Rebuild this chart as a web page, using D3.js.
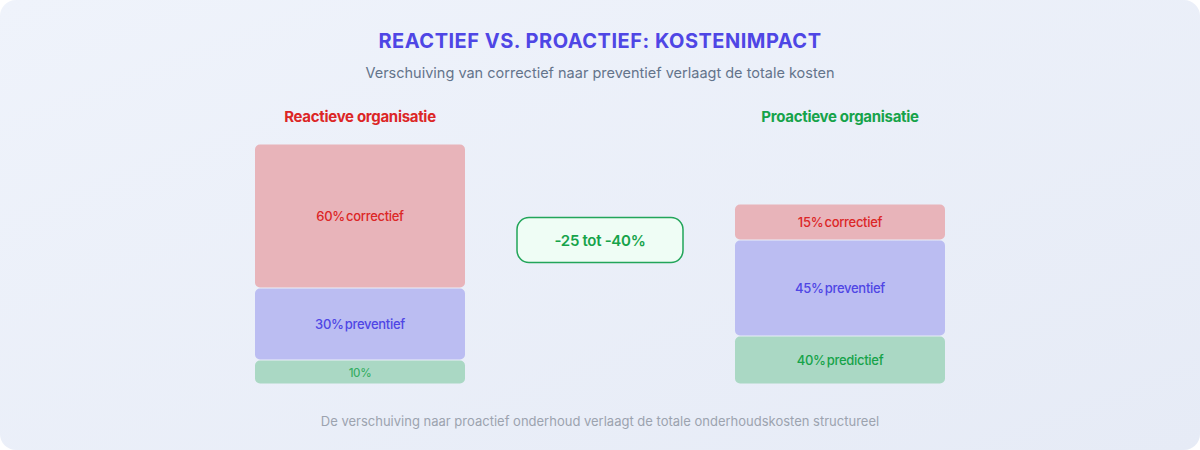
<!DOCTYPE html>
<html><head><meta charset="utf-8">
<script src="https://cdn.jsdelivr.net/npm/d3@7"></script>
<style>body{margin:0;background:#fff;font-family:Inter,"Noto Sans",sans-serif}</style>
</head><body><svg id="c" width="1200" height="450"></svg>
<script>
const categories = ["correctief","preventief","predictief"];
const reactiefValues = [60,30,10];
const reactiefLabels = ["60% correctief","30% preventief","10%"];
const proactiefValues = [15,40,20];
const proactiefLabels = ["15% correctief","45% preventief","40% predictief"];
const badgeText = "-25 tot -40%";

const svg = d3.select("#c");
const defs = svg.append("defs");
const g = defs.append("linearGradient").attr("id","bg").attr("x1","0").attr("y1","0").attr("x2","1").attr("y2","1");
g.append("stop").attr("offset","0").attr("stop-color","#eff3fb");
g.append("stop").attr("offset","1").attr("stop-color","#e6ebf6");
svg.append("rect").attr("width",1200).attr("height",450).attr("rx",16).attr("fill","url(#bg)");

svg.append("text").attr("x",600).attr("y",48).attr("text-anchor","middle").attr("font-size",20).attr("font-weight",700).attr("fill","#4f46e5").attr("letter-spacing","0.5").text("REACTIEF VS. PROACTIEF: KOSTENIMPACT");
svg.append("text").attr("x",600).attr("y",78).attr("text-anchor","middle").attr("font-size",14.5).attr("fill","#64748b").text("Verschuiving van correctief naar preventief verlaagt de totale kosten");
svg.append("text").attr("x",600).attr("y",426).attr("text-anchor","middle").attr("font-size",13).attr("fill","#9ca3af").text("De verschuiving naar proactief onderhoud verlaagt de totale onderhoudskosten structureel");

const fills = {correctief:"#e8b4ba",preventief:"#bbbdf2",predictief:"#aad8c4"};
const txt = {correctief:"#dc2626",preventief:"#4f46e5",predictief:"#16a34a"};
const y = d3.scaleLinear().domain([0,100]).range([384,144]);

function stack(x0, values, labels, title, titleColor){
  const w = 210;
  svg.append("text").attr("x",x0+w/2).attr("y",122).attr("text-anchor","middle").attr("font-size",15).attr("font-weight",700).attr("fill",titleColor).attr("letter-spacing","-0.3").text(title);
  let cum = d3.sum(values);
  const segs = values.map((v,i)=>{const s={cat:categories[i],lo:cum-v,hi:cum,label:labels[i]};cum-=v;return s;});
  const gg = svg.append("g");
  gg.selectAll("rect").data(segs).join("rect")
    .attr("x",x0).attr("width",w)
    .attr("y",d=>y(d.hi)+0.5).attr("height",d=>y(d.lo)-y(d.hi)-1)
    .attr("rx",5).attr("fill",d=>fills[d.cat]);
  gg.selectAll("text").data(segs).join("text")
    .attr("x",x0+w/2).attr("y",d=>(y(d.hi)+y(d.lo))/2+5)
    .attr("text-anchor","middle").attr("font-size",d=>d.hi-d.lo<15?11.5:13).attr("font-weight",500).attr("letter-spacing","-0.3").attr("word-spacing","-2")
    .attr("fill",d=>txt[d.cat]).attr("fill-opacity",d=>d.hi-d.lo<15?0.8:1).text(d=>d.label);
}
stack(255, reactiefValues, reactiefLabels, "Reactieve organisatie", "#dc2626");
stack(735, proactiefValues, proactiefLabels, "Proactieve organisatie", "#16a34a");

svg.append("rect").attr("x",517).attr("y",217.5).attr("width",166).attr("height",45).attr("rx",12).attr("fill","#effdf5").attr("stroke","#22a55a").attr("stroke-width",1.5);
svg.append("text").attr("x",600).attr("y",246).attr("text-anchor","middle").attr("font-size",15).attr("font-weight",600).attr("fill","#16a34a").attr("letter-spacing","-0.3").text(badgeText);
</script></body></html>
